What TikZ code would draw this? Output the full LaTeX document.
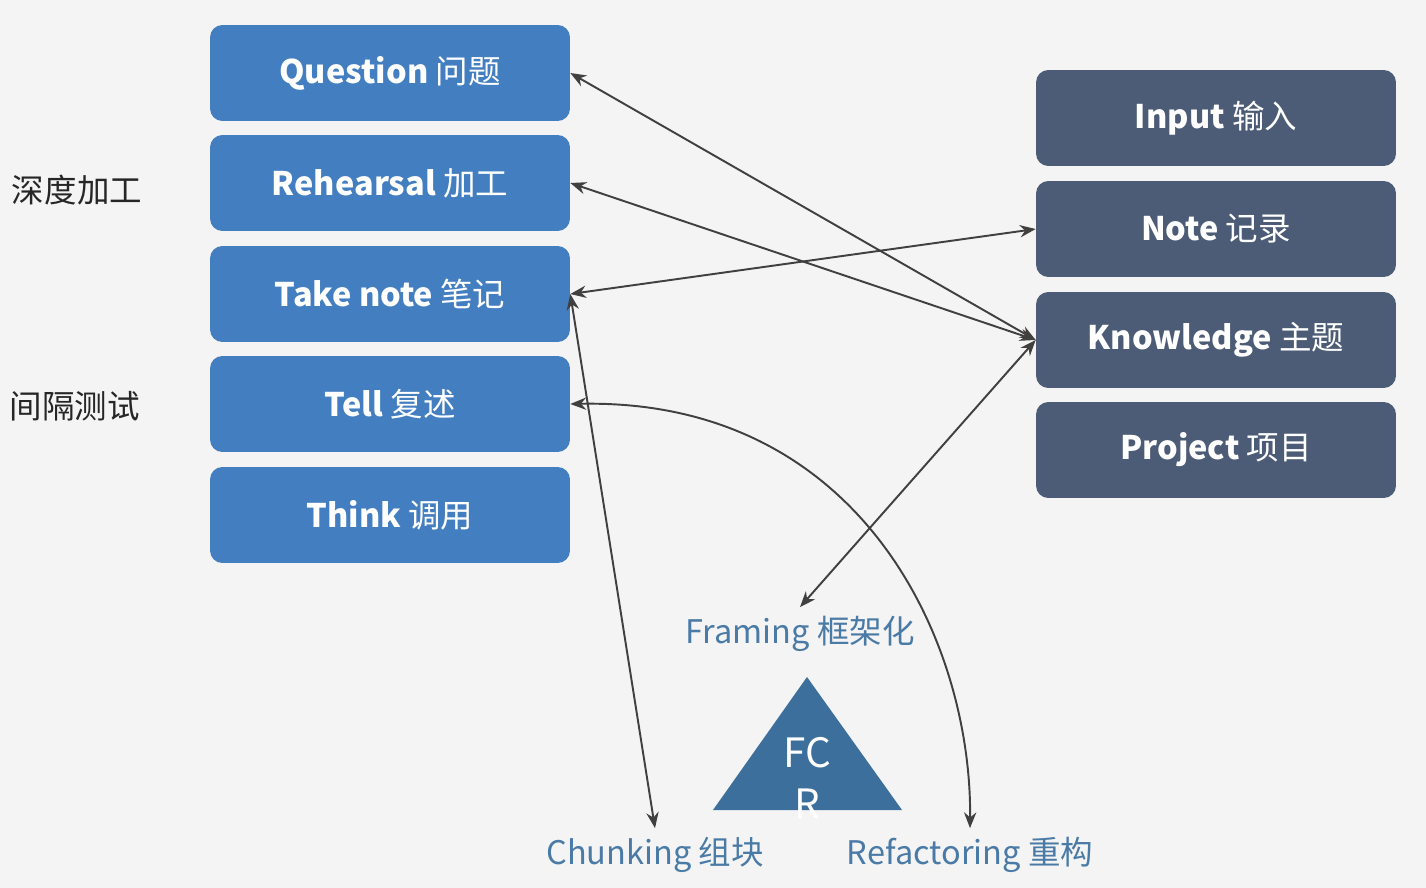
\documentclass[tikz,border=0pt]{standalone}
\usepackage{fontspec}
\setmainfont{Noto Sans CJK SC}
\usetikzlibrary{arrows.meta}

\begin{document}
\begin{tikzpicture}[x=0.02cm,y=-0.02cm]
    % colours taken from the slide
    \definecolor{slideBg}{RGB}{244,244,244}
    \definecolor{stepBlue}{RGB}{66,126,192}
    \definecolor{pkmSlate}{RGB}{77,92,118}
    \definecolor{fcrBlue}{RGB}{61,111,156}
    \definecolor{labelBlue}{RGB}{74,122,166}
    \definecolor{arrowGrey}{RGB}{64,64,64}
    \tikzstyle{every node}=[font=\fontsize{18.5}{22}\selectfont]
    \tikzstyle{stepbox}=[fill=stepBlue, rounded corners=7pt, minimum width=7.2cm, minimum height=1.92cm, inner sep=0pt, text=white]
    \tikzstyle{pkmbox}=[stepbox, fill=pkmSlate]
    \tikzstyle{fcrlabel}=[text=labelBlue, inner sep=5pt]
    \tikzstyle{link}=[arrowGrey, line width=1.1pt, >={Stealth[length=9pt,width=7pt]}, <->]

    % page
    \fill[slideBg] (0,0) rectangle (1426,888);
    \useasboundingbox (0,0) rectangle (1426,888);

    % left column
    \node[stepbox] (question) at (390,73) {\textbf{Question} 问题};
    \node[stepbox] (rehearsal) at (390,183) {\textbf{Rehearsal} 加工};
    \node[stepbox] (takenote) at (390,294) {\textbf{Take note} 笔记};
    \node[stepbox] (tell) at (390,404) {\textbf{Tell} 复述};
    \node[stepbox] (think) at (390,515) {\textbf{Think} 调用};

    % side notes
    \node[text=black!85] (deep) at (77,190) {深度加工};
    \node[text=black!85] (spaced) at (75,406) {间隔测试};

    % right column
    \node[pkmbox] (input) at (1216,118) {\textbf{Input} 输入};
    \node[pkmbox] (note) at (1216,229) {\textbf{Note} 记录};
    \node[pkmbox] (knowledge) at (1216,340) {\textbf{Knowledge} 主题};
    \node[pkmbox] (project) at (1216,450) {\textbf{Project} 项目};

    % FCR triangle and its corners
    \fill[fcrBlue] (807,677) -- (902,810) -- (713,810) -- cycle;
    \node[text=white, align=center, font=\fontsize{23}{29}\selectfont] (fcr) at (807,778) {FC\\R};
    \node[fcrlabel] (framing) at (800,634) {Framing 框架化};
    \node[fcrlabel] (chunking) at (655,855) {Chunking 组块};
    \node[fcrlabel] (refactoring) at (970,855) {Refactoring 重构};

    % connectors
    \draw[link] (question.east) -- (knowledge.west);
    \draw[link] (rehearsal.east) -- (knowledge.west);
    \draw[link] (takenote.east) -- (note.west);
    \draw[link] (framing.north) -- (knowledge.west);
    \draw[link] (takenote.east) -- (chunking.north);
    \draw[link] (tell.east) .. controls (860,398) and (972,640) .. (refactoring.north);

\end{tikzpicture}
\end{document}
